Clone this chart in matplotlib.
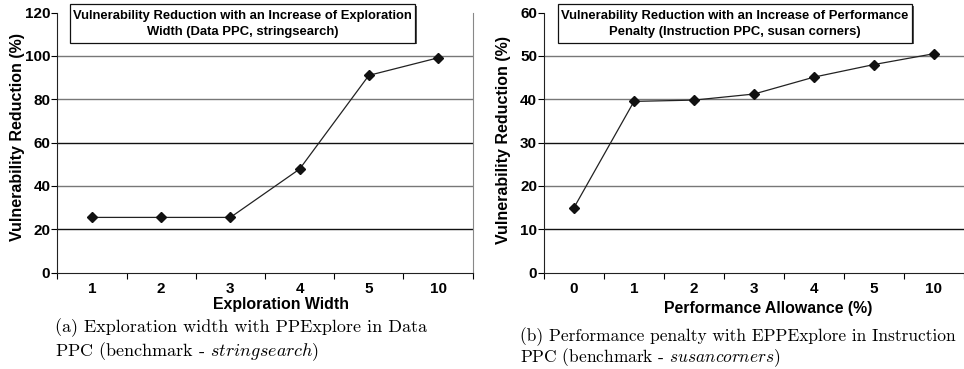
import matplotlib
matplotlib.use("Agg")
import matplotlib.pyplot as plt
from matplotlib.patches import Rectangle
import numpy as np

# ---- data ----
width_labels = ["1", "2", "3", "4", "5", "10"]
width_values = [25.5, 25.5, 25.5, 47.8, 91.0, 99.1]

allow_labels = ["0", "1", "2", "3", "4", "5", "10"]
allow_values = [15.0, 39.5, 39.8, 41.2, 45.1, 48.0, 50.5]

left_title = ["Vulnerability Reduction with an Increase of Exploration",
              "Width (Data PPC, stringsearch)"]
right_title = ["Vulnerability Reduction with an Increase of Performance",
               "Penalty (Instruction PPC, susan corners)"]
ylabel = "Vulnerability Reduction (%)"
left_xlabel = "Exploration Width"
right_xlabel = "Performance Allowance (%)"
left_caption = ["(a) Exploration width with PPExplore in Data",
                r"PPC (benchmark - $\mathit{stringsearch}$)"]
right_caption = ["(b) Performance penalty with EPPExplore in Instruction",
                 r"PPC (benchmark - $\mathit{susancorners}$)"]

plt.rcParams['mathtext.fontset'] = 'cm'
plt.rcParams['font.family'] = ['Liberation Sans', 'DejaVu Sans']

W, H = 964, 369
fig = plt.figure(figsize=(W / 100, H / 100), dpi=100)


def fx(px):
    return px / W


def fy(py):
    return 1 - py / H


def make_panel(x0, x1, labels, values, ymax, ystep, grid_colors, right_spine):
    ax = fig.add_axes([fx(x0), fy(272.7), fx(x1 - x0), (272.7 - 12.5) / H])
    n = len(labels)
    x = np.arange(n)
    ax.plot(x, values, color='#222222', lw=0.9, marker='D', markersize=5,
            markerfacecolor='#111111', markeredgecolor='#111111', zorder=3)
    ax.set_xlim(-0.5, n - 0.5)
    ax.set_ylim(0, ymax)
    ax.set_xticks(x)
    ax.set_xticklabels(labels, fontsize=11, fontweight='bold')
    ax.set_xticks(np.arange(n + 1) - 0.5, minor=True)
    ax.tick_params(axis='x', which='major', length=0, pad=6.5)
    ax.tick_params(axis='x', which='minor', length=4, width=0.8, direction='out')
    yt = np.arange(0, ymax + 0.1, ystep)
    ax.set_yticks(yt)
    ax.set_yticklabels([f"{int(v)}" for v in yt], fontsize=11, fontweight='bold')
    ax.tick_params(axis='y', length=4, width=0.8, pad=1)
    ax.spines['top'].set_visible(False)
    ax.spines['right'].set_visible(right_spine)
    ax.spines['right'].set_color('#888888')
    ax.spines['left'].set_color('#222222')
    ax.spines['bottom'].set_color('#222222')
    for v, c in zip(yt[1:-1], grid_colors):
        ax.axhline(v, color=c, lw=1.0, zorder=1)
    return ax


make_panel(57.3, 472.7, width_labels, width_values, 120, 20,
           ['#111111', '#777777', '#111111', '#777777', '#777777'], True)
make_panel(544, 964, allow_labels, allow_values, 60, 10,
           ['#111111', '#777777', '#111111', '#777777', '#777777'], False)


def title_box(x0, x1, y0, y1, lines):
    shadow = Rectangle((fx(x0 + 1.5), fy(y1 + 1.5)), fx(x1 - x0), (y1 - y0) / H,
                       transform=fig.transFigure, facecolor='#555555',
                       edgecolor='none', zorder=4)
    box = Rectangle((fx(x0), fy(y1)), fx(x1 - x0), (y1 - y0) / H,
                    transform=fig.transFigure, facecolor='white',
                    edgecolor='#111111', lw=0.9, zorder=5)
    fig.add_artist(shadow)
    fig.add_artist(box)
    cx = (x0 + x1) / 2
    fig.text(fx(cx), fy(16), lines[0], ha='center', va='center',
             fontsize=9.35, fontweight='bold', zorder=6)
    fig.text(fx(cx), fy(32), lines[1], ha='center', va='center',
             fontsize=9.35, fontweight='bold', zorder=6)


title_box(70, 415, 4, 42.5, left_title)
title_box(558, 912, 4, 42.5, right_title)

fig.text(fx(18), fy(137), ylabel, rotation=90, ha='center', va='center',
         fontsize=11.5, fontweight='bold')
fig.text(fx(503), fy(140), ylabel, rotation=90, ha='center', va='center',
         fontsize=11.5, fontweight='bold')

fig.text(fx(281), fy(304.5), left_xlabel, ha='center', va='center',
         fontsize=11.4, fontweight='bold')
fig.text(fx(768), fy(308), right_xlabel, ha='center', va='center',
         fontsize=11.4, fontweight='bold')

for i, line in enumerate(left_caption):
    fig.text(fx(55), fy(328 + 24 * i), line, ha='left', va='center',
             fontsize=13, family='cmr10')
for i, line in enumerate(right_caption):
    fig.text(fx(520), fy(337 + 21 * i), line, ha='left', va='center',
             fontsize=12.5, family='cmr10')

fig.savefig("out.png", dpi=100)
